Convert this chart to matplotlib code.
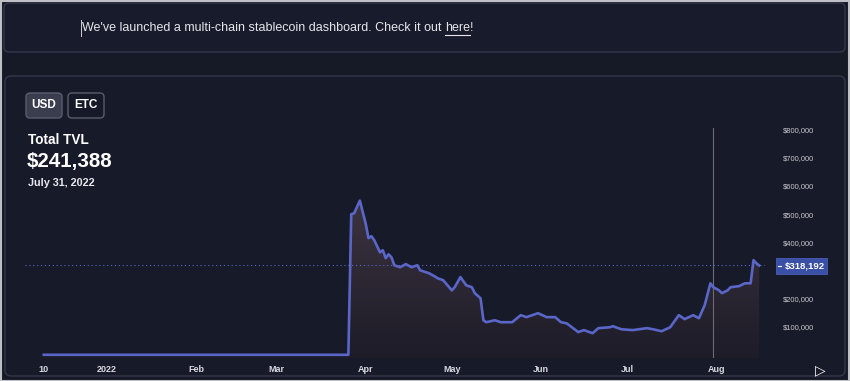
import numpy as np
import pandas as pd
import matplotlib
matplotlib.use("Agg")
import matplotlib.pyplot as plt
import matplotlib.dates as mdates
from matplotlib.patches import FancyBboxPatch, Rectangle, PathPatch
from matplotlib.colors import LinearSegmentedColormap
from datetime import datetime

plt.rcParams['font.family'] = ['Liberation Sans', 'DejaVu Sans']

# ---------------- data ----------------
dates = ['2021-12-10', '2022-03-26', '2022-03-27', '2022-03-28', '2022-03-30',
         '2022-04-01', '2022-04-02', '2022-04-03', '2022-04-04', '2022-04-06',
         '2022-04-07', '2022-04-08', '2022-04-09', '2022-04-10', '2022-04-11',
         '2022-04-13', '2022-04-15', '2022-04-17', '2022-04-19', '2022-04-20',
         '2022-04-23', '2022-04-25', '2022-04-26', '2022-04-28', '2022-05-01',
         '2022-05-02', '2022-05-04', '2022-05-06', '2022-05-08', '2022-05-09',
         '2022-05-11', '2022-05-12', '2022-05-13', '2022-05-16', '2022-05-18',
         '2022-05-22', '2022-05-25', '2022-05-27', '2022-05-31', '2022-06-03',
         '2022-06-06', '2022-06-08', '2022-06-10', '2022-06-14', '2022-06-16',
         '2022-06-19', '2022-06-21', '2022-06-25', '2022-06-26', '2022-06-29',
         '2022-07-03', '2022-07-08', '2022-07-10', '2022-07-13', '2022-07-16',
         '2022-07-19', '2022-07-21', '2022-07-24', '2022-07-26', '2022-07-28',
         '2022-07-30', '2022-07-31', '2022-08-02', '2022-08-03', '2022-08-05',
         '2022-08-06', '2022-08-09', '2022-08-11', '2022-08-13', '2022-08-14',
         '2022-08-15', '2022-08-16']
tvl_k = [1.5, 1.5, 500, 503, 548,
         468, 415, 422, 408, 365,
         372, 344, 358, 347, 319,
         312, 323, 312, 319, 301,
         291, 280, 273, 266, 230,
         241, 277, 248, 241, 220,
         202, 124, 117, 124, 117,
         117, 142, 135, 149, 135,
         135, 117, 113, 82, 89,
         78, 96, 99, 103, 92,
         89, 96, 92, 85, 99,
         142, 128, 142, 131, 177,
         255, 241.388, 230, 220, 230,
         241, 245, 255, 255, 337,
         326, 318.192]

x_tick_dates = ['2021-12-10', '2022-01-01', '2022-02-01', '2022-03-01', '2022-04-01',
                '2022-05-01', '2022-06-01', '2022-07-01', '2022-08-01']
x_tick_labels = ['10', '2022', 'Feb', 'Mar', 'Apr', 'May', 'Jun', 'Jul', 'Aug']
y_ticks = [100000, 200000, 400000, 500000, 600000, 700000, 800000]
y_tick_labels = ['$100,000', '$200,000', '$400,000', '$500,000',
                 '$600,000', '$700,000', '$800,000']

last_value_label = '$318,192'
crosshair_date = '2022-07-31'
headline_title = 'Total TVL'
headline_value = '$241,388'
headline_date = 'July 31, 2022'
banner_text = "We've launched a multi-chain stablecoin dashboard. Check it out "
banner_link = 'here'

# ---------------- figure ----------------
W, H = 850, 381
BG = '#161926'
PANEL = '#171a28'
BORDER = '#34374a'
LINE = '#5a66c8'
BFS = 9.0

fig = plt.figure(figsize=(W / 100, H / 100), dpi=100, facecolor=BG)

bg = fig.add_axes([0, 0, 1, 1], zorder=0)
bg.set_xlim(0, W)
bg.set_ylim(H, 0)
bg.axis('off')

bg.add_patch(Rectangle((0.5, 0.5), W - 1, H - 1, facecolor='none',
                       edgecolor='#bfc0c6', lw=1.5))
bg.add_patch(FancyBboxPatch((4, 3), W - 9, 49, boxstyle='round,pad=0,rounding_size=5',
                            facecolor='#181b2b', edgecolor=BORDER, lw=1.0))
bg.add_patch(FancyBboxPatch((5, 76), W - 10, 300, boxstyle='round,pad=0,rounding_size=6',
                            facecolor=PANEL, edgecolor=BORDER, lw=1.0))

# banner text
t1 = bg.text(82, 28, banner_text, color='#e6e6ea', fontsize=BFS, va='center', ha='left')
bg.plot([81, 81], [20, 36], color='#d0d0d0', lw=0.7)
fig.canvas.draw()
bb = t1.get_window_extent(renderer=fig.canvas.get_renderer())
t2 = bg.text(bb.x1, 28, banner_link, color='#e6e6ea', fontsize=BFS, va='center', ha='left')
fig.canvas.draw()
bb2 = t2.get_window_extent(renderer=fig.canvas.get_renderer())
bg.plot([bb2.x0, bb2.x1], [34.5, 34.5], color='#e6e6ea', lw=0.8)
bg.text(bb2.x1, 28, '!', color='#e6e6ea', fontsize=BFS, va='center', ha='left')

# buttons
bg.add_patch(FancyBboxPatch((26, 93), 36, 25, boxstyle='round,pad=0,rounding_size=4',
                            facecolor='#3a3d4d', edgecolor='#5a5d6e', lw=1.0))
bg.add_patch(FancyBboxPatch((68, 93), 36, 25, boxstyle='round,pad=0,rounding_size=4',
                            facecolor='#161a28', edgecolor='#5a5d6e', lw=1.0))
bg.text(44, 105.5, 'USD', color='white', fontsize=8.5, fontweight='bold', ha='center', va='center')
bg.text(86, 105.5, 'ETC', color='white', fontsize=8.5, fontweight='bold', ha='center', va='center')

# headline
bg.text(28, 140, headline_title, color='white', fontsize=9.8, fontweight='bold', va='center')
bg.text(27, 162, headline_value, color='white', fontsize=14.8, fontweight='bold', va='center')
bg.text(28, 183, headline_date, color='#e8e8ec', fontsize=7.8, fontweight='bold', va='center')

# ---------------- chart ----------------
ax_l, ax_r, ax_t, ax_b = 25, 765, 120, 358
ax = fig.add_axes([ax_l / W, 1 - ax_b / H, (ax_r - ax_l) / W, (ax_b - ax_t) / H], zorder=1)
ax.set_facecolor('none')
for s in ax.spines.values():
    s.set_visible(False)

x = mdates.date2num(pd.to_datetime(dates).to_pydatetime())
y = np.array(tvl_k) * 1000.0
base = mdates.date2num(datetime(2022, 1, 1))
xmin, xmax = base - 28.54, base + 229.0
ymin, ymax = -9900, 834000
ax.set_xlim(xmin, xmax)
ax.set_ylim(ymin, ymax)

poly = ax.fill_between(x, y, ymin, color='none', lw=0)
path = poly.get_paths()[0]
clip = PathPatch(path, transform=ax.transData, facecolor='none', edgecolor='none')
ax.add_patch(clip)
cmap = LinearSegmentedColormap.from_list('g', ['#1d1c28', '#3d3340'])
grad = np.linspace(0, 1, 256).reshape(-1, 1)
im = ax.imshow(grad, extent=[xmin, xmax, ymin, 560000], aspect='auto', cmap=cmap,
               origin='lower', zorder=1)
im.set_clip_path(clip)

ax.plot(x, y, color=LINE, lw=1.9, zorder=3, solid_joinstyle='round')

cx = mdates.date2num(pd.to_datetime(crosshair_date).to_pydatetime())
ax.axvline(cx, ymin=0, ymax=(ax_b - 128) / (ax_b - ax_t), color='#6b6b74', lw=0.8, zorder=2)
ax.axhline(y[-1], color=LINE, ls=(0, (1, 2.5)), lw=0.8, zorder=2)

ax.set_xticks(mdates.date2num(pd.to_datetime(x_tick_dates).to_pydatetime()))
ax.set_xticklabels(x_tick_labels, fontsize=6.5, color='#d8d8e0', fontweight='bold')
ax.yaxis.tick_right()
ax.set_yticks(y_ticks)
ax.set_yticklabels(y_tick_labels, fontsize=5.4, color='#c8c8d0')
ax.tick_params(axis='x', length=0, pad=5)
ax.tick_params(axis='y', length=0, pad=12.5)

# ---------------- overlay ----------------
ov = fig.add_axes([0, 0, 1, 1], zorder=5)
ov.set_xlim(0, W)
ov.set_ylim(H, 0)
ov.axis('off')
ov.patch.set_alpha(0)
ov.add_patch(Rectangle((776, 258), 51, 16, facecolor='#3a4fa6', edgecolor='#4a5cb8', lw=0.6))
ov.plot([778, 781], [266, 266], color='white', lw=0.8)
ov.text(805, 266, last_value_label, color='white', fontsize=6.8, fontweight='bold',
        ha='center', va='center')
ov.text(820, 370, '\u25b7', color='white', fontsize=10, ha='center', va='center',
        family='DejaVu Sans')

fig.savefig('out.png', dpi=100, facecolor=BG)
